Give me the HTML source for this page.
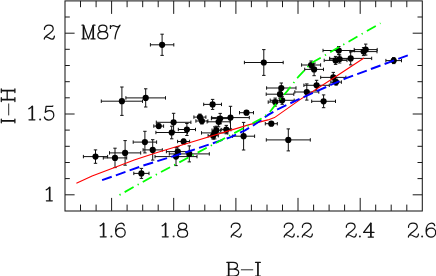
<!DOCTYPE html>
<html><head><meta charset="utf-8"><title>M87</title>
<style>
html,body{margin:0;padding:0;background:#fff;}
body{width:436px;height:276px;overflow:hidden;}
svg{display:block;}
text{font-family:"Liberation Serif",serif;fill:#1a1a1a;}
</style></head><body>
<svg width="436" height="276" viewBox="0 0 436 276">
<rect x="0" y="0" width="436" height="276" fill="#fff"/>
<g stroke="#1a1a1a" stroke-width="1.05" fill="none">
<rect x="65.0" y="0.9" width="357.3" height="210.1"/>
</g>
<g stroke="#1a1a1a" stroke-width="1.0" fill="none">
<path d="M80.5 210.9v-6.3M80.5 0.9v6.3M96.1 210.9v-6.3M96.1 0.9v6.3M111.6 210.9v-13.0M111.6 0.9v13.0M127.1 210.9v-6.3M127.1 0.9v6.3M142.7 210.9v-6.3M142.7 0.9v6.3M158.2 210.9v-6.3M158.2 0.9v6.3M173.7 210.9v-13.0M173.7 0.9v13.0M189.3 210.9v-6.3M189.3 0.9v6.3M204.8 210.9v-6.3M204.8 0.9v6.3M220.4 210.9v-6.3M220.4 0.9v6.3M235.9 210.9v-13.0M235.9 0.9v13.0M251.4 210.9v-6.3M251.4 0.9v6.3M267.0 210.9v-6.3M267.0 0.9v6.3M282.5 210.9v-6.3M282.5 0.9v6.3M298.0 210.9v-13.0M298.0 0.9v13.0M313.6 210.9v-6.3M313.6 0.9v6.3M329.1 210.9v-6.3M329.1 0.9v6.3M344.6 210.9v-6.3M344.6 0.9v6.3M360.2 210.9v-13.0M360.2 0.9v13.0M375.7 210.9v-6.3M375.7 0.9v6.3M391.2 210.9v-6.3M391.2 0.9v6.3M406.8 210.9v-6.3M406.8 0.9v6.3M65.0 194.8h9.6M422.3 194.8h-9.6M65.0 178.6h4.8M422.3 178.6h-4.8M65.0 162.5h4.8M422.3 162.5h-4.8M65.0 146.3h4.8M422.3 146.3h-4.8M65.0 130.1h4.8M422.3 130.1h-4.8M65.0 114.0h9.6M422.3 114.0h-9.6M65.0 97.8h4.8M422.3 97.8h-4.8M65.0 81.7h4.8M422.3 81.7h-4.8M65.0 65.5h4.8M422.3 65.5h-4.8M65.0 49.3h4.8M422.3 49.3h-4.8M65.0 33.2h9.6M422.3 33.2h-9.6M65.0 17.0h4.8M422.3 17.0h-4.8"/>
</g>
<g stroke="#111" stroke-width="1" fill="none">
<path d="M150.4 44.8h23.4M150.4 43.1v3.4M173.8 43.1v3.4M162.1 34.2v21.2M160.4 34.2h3.4M160.4 55.4h3.4M101.3 101.2h41.2M101.3 99.5v3.4M142.5 99.5v3.4M121.9 87.0v28.4M120.2 87.0h3.4M120.2 115.4h3.4M125.9 97.9h39.6M125.9 96.2v3.4M165.5 96.2v3.4M145.7 88.8v18.2M144.0 88.8h3.4M144.0 107.0h3.4M153.8 126.1h9.8M153.8 124.4v3.4M163.6 124.4v3.4M158.7 124.1v4.0M157.0 124.1h3.4M157.0 128.1h3.4M83.4 156.6h24.2M83.4 154.9v3.4M107.6 154.9v3.4M95.5 149.9v13.4M93.8 149.9h3.4M93.8 163.3h3.4M103.3 157.9h23.4M103.3 156.2v3.4M126.7 156.2v3.4M115.0 148.2v19.4M113.3 148.2h3.4M113.3 167.6h3.4M109.5 152.9h31.2M109.5 151.2v3.4M140.7 151.2v3.4M125.1 140.6v24.6M123.4 140.6h3.4M123.4 165.2h3.4M156.3 122.3h34.6M156.3 120.6v3.4M190.9 120.6v3.4M173.6 113.3v18.0M171.9 113.3h3.4M171.9 131.3h3.4M155.9 132.5h31.6M155.9 130.8v3.4M187.5 130.8v3.4M171.7 126.2v12.6M170.0 126.2h3.4M170.0 138.8h3.4M178.3 129.5h17.2M178.3 127.8v3.4M195.5 127.8v3.4M186.9 123.5v12.0M185.2 123.5h3.4M185.2 135.5h3.4M133.2 142.1h23.4M133.2 140.4v3.4M156.6 140.4v3.4M144.9 131.3v21.6M143.2 131.3h3.4M143.2 152.9h3.4M177.6 141.5h12.0M177.6 139.8v3.4M189.6 139.8v3.4M183.6 139.0v5.0M181.9 139.0h3.4M181.9 144.0h3.4M143.1 149.9h19.2M143.1 148.2v3.4M162.3 148.2v3.4M152.7 139.7v20.4M151.0 139.7h3.4M151.0 160.1h3.4M166.4 151.6h22.8M166.4 149.9v3.4M189.2 149.9v3.4M177.8 146.6v10.0M176.1 146.6h3.4M176.1 156.6h3.4M155.0 156.6h42.0M155.0 154.9v3.4M197.0 154.9v3.4M176.0 147.6v18.0M174.3 147.6h3.4M174.3 165.6h3.4M133.8 173.4h15.2M133.8 171.7v3.4M149.0 171.7v3.4M141.4 168.4v10.0M139.7 168.4h3.4M139.7 178.4h3.4M169.3 153.9h40.0M169.3 152.2v3.4M209.3 152.2v3.4M189.3 145.9v16.0M187.6 145.9h3.4M187.6 161.9h3.4M203.7 104.4h17.8M203.7 102.7v3.4M221.5 102.7v3.4M212.6 99.4v10.0M210.9 99.4h3.4M210.9 109.4h3.4M193.9 117.1h12.0M193.9 115.4v3.4M205.9 115.4v3.4M199.9 114.1v6.0M198.2 114.1h3.4M198.2 120.1h3.4M195.9 121.0h12.0M195.9 119.3v3.4M207.9 119.3v3.4M201.9 118.0v6.0M200.2 118.0h3.4M200.2 124.0h3.4M211.4 118.6h17.6M211.4 116.9v3.4M229.0 116.9v3.4M220.2 113.4v10.4M218.5 113.4h3.4M218.5 123.8h3.4M207.1 121.8h23.0M207.1 120.1v3.4M230.1 120.1v3.4M218.6 116.8v10.0M216.9 116.8h3.4M216.9 126.8h3.4M211.7 117.6h37.6M211.7 115.9v3.4M249.3 115.9v3.4M230.5 106.3v22.6M228.8 106.3h3.4M228.8 128.9h3.4M212.0 130.2h8.6M212.0 128.5v3.4M220.6 128.5v3.4M216.3 126.2v8.0M214.6 126.2h3.4M214.6 134.2h3.4M201.5 132.9h26.4M201.5 131.2v3.4M227.9 131.2v3.4M214.7 126.9v12.0M213.0 126.9h3.4M213.0 138.9h3.4M208.1 135.7h10.2M208.1 134.0v3.4M218.3 134.0v3.4M213.2 132.2v7.0M211.5 132.2h3.4M211.5 139.2h3.4M221.7 129.6h9.2M221.7 127.9v3.4M230.9 127.9v3.4M226.3 125.4v8.4M224.6 125.4h3.4M224.6 133.8h3.4M232.6 136.2h22.0M232.6 134.5v3.4M254.6 134.5v3.4M243.6 122.4v27.6M241.9 122.4h3.4M241.9 150.0h3.4M239.5 112.7h14.0M239.5 111.0v3.4M253.5 111.0v3.4M246.5 110.7v4.0M244.8 110.7h3.4M244.8 114.7h3.4M244.4 62.5h38.8M244.4 60.8v3.4M283.2 60.8v3.4M263.8 49.6v25.8M262.1 49.6h3.4M262.1 75.4h3.4M266.6 88.0h29.4M266.6 86.3v3.4M296.0 86.3v3.4M281.3 83.0v10.0M279.6 83.0h3.4M279.6 93.0h3.4M266.2 94.2h27.6M266.2 92.5v3.4M293.8 92.5v3.4M280.0 90.2v8.0M278.3 90.2h3.4M278.3 98.2h3.4M270.2 100.3h24.0M270.2 98.6v3.4M294.2 98.6v3.4M282.2 96.3v8.0M280.5 96.3h3.4M280.5 104.3h3.4M268.2 102.1h14.0M268.2 100.4v3.4M282.2 100.4v3.4M275.2 98.1v8.0M273.5 98.1h3.4M273.5 106.1h3.4M265.3 123.7h12.0M265.3 122.0v3.4M277.3 122.0v3.4M271.3 121.7v4.0M269.6 121.7h3.4M269.6 125.7h3.4M266.3 139.9h44.0M266.3 138.2v3.4M310.3 138.2v3.4M288.3 128.9v22.0M286.6 128.9h3.4M286.6 150.9h3.4M294.8 92.0h24.0M294.8 90.3v3.4M318.8 90.3v3.4M306.8 83.9v16.2M305.1 83.9h3.4M305.1 100.1h3.4M303.9 85.3h25.4M303.9 83.6v3.4M329.3 83.6v3.4M316.6 80.3v10.0M314.9 80.3h3.4M314.9 90.3h3.4M311.7 101.3h23.8M311.7 99.6v3.4M335.5 99.6v3.4M323.6 94.9v12.8M321.9 94.9h3.4M321.9 107.7h3.4M301.6 65.0h19.0M301.6 63.3v3.4M320.6 63.3v3.4M311.1 61.0v8.0M309.4 61.0h3.4M309.4 69.0h3.4M304.7 69.4h18.8M304.7 67.7v3.4M323.5 67.7v3.4M314.1 63.1v12.6M312.4 63.1h3.4M312.4 75.7h3.4M320.7 77.4h25.2M320.7 75.7v3.4M345.9 75.7v3.4M333.3 72.4v10.0M331.6 72.4h3.4M331.6 82.4h3.4M330.8 82.1h10.6M330.8 80.4v3.4M341.4 80.4v3.4M336.1 79.1v6.0M334.4 79.1h3.4M334.4 85.1h3.4M323.0 50.5h31.6M323.0 48.8v3.4M354.6 48.8v3.4M338.8 46.5v8.0M337.1 46.5h3.4M337.1 54.5h3.4M324.2 60.4h22.8M324.2 58.7v3.4M347.0 58.7v3.4M335.6 56.4v8.0M333.9 56.4h3.4M333.9 64.4h3.4M329.6 59.0h20.0M329.6 57.3v3.4M349.6 57.3v3.4M339.6 55.0v8.0M337.9 55.0h3.4M337.9 63.0h3.4M329.7 58.4h42.0M329.7 56.7v3.4M371.7 56.7v3.4M350.7 51.9v13.0M349.0 51.9h3.4M349.0 64.9h3.4M354.2 49.6h23.0M354.2 47.9v3.4M377.2 47.9v3.4M365.7 44.1v11.0M364.0 44.1h3.4M364.0 55.1h3.4M350.2 51.6h26.8M350.2 49.9v3.4M377.0 49.9v3.4M363.6 47.6v8.0M361.9 47.6h3.4M361.9 55.6h3.4M385.9 60.6h15.6M385.9 58.9v3.4M401.5 58.9v3.4M393.7 57.6v6.0M392.0 57.6h3.4M392.0 63.6h3.4"/>
</g>
<g fill="#000">
<circle cx="162.1" cy="44.8" r="3.1"/><circle cx="121.9" cy="101.2" r="3.1"/><circle cx="145.7" cy="97.9" r="3.1"/><circle cx="158.7" cy="126.1" r="3.1"/><circle cx="95.5" cy="156.6" r="3.1"/><circle cx="115.0" cy="157.9" r="3.1"/><circle cx="125.1" cy="152.9" r="3.1"/><circle cx="173.6" cy="122.3" r="3.1"/><circle cx="171.7" cy="132.5" r="3.1"/><circle cx="186.9" cy="129.5" r="3.1"/><circle cx="144.9" cy="142.1" r="3.1"/><circle cx="183.6" cy="141.5" r="3.1"/><circle cx="152.7" cy="149.9" r="3.1"/><circle cx="177.8" cy="151.6" r="3.1"/><circle cx="176.0" cy="156.6" r="3.1"/><circle cx="141.4" cy="173.4" r="3.1"/><circle cx="189.3" cy="153.9" r="3.1"/><circle cx="212.6" cy="104.4" r="3.1"/><circle cx="199.9" cy="117.1" r="3.1"/><circle cx="201.9" cy="121.0" r="3.1"/><circle cx="220.2" cy="118.6" r="3.1"/><circle cx="218.6" cy="121.8" r="3.1"/><circle cx="230.5" cy="117.6" r="3.1"/><circle cx="216.3" cy="130.2" r="3.1"/><circle cx="214.7" cy="132.9" r="3.1"/><circle cx="213.2" cy="135.7" r="3.1"/><circle cx="226.3" cy="129.6" r="3.1"/><circle cx="243.6" cy="136.2" r="3.1"/><circle cx="246.5" cy="112.7" r="3.1"/><circle cx="263.8" cy="62.5" r="3.1"/><circle cx="281.3" cy="88.0" r="3.1"/><circle cx="280.0" cy="94.2" r="3.1"/><circle cx="282.2" cy="100.3" r="3.1"/><circle cx="275.2" cy="102.1" r="3.1"/><circle cx="271.3" cy="123.7" r="3.1"/><circle cx="288.3" cy="139.9" r="3.1"/><circle cx="306.8" cy="92.0" r="3.1"/><circle cx="316.6" cy="85.3" r="3.1"/><circle cx="323.6" cy="101.3" r="3.1"/><circle cx="311.1" cy="65.0" r="3.1"/><circle cx="314.1" cy="69.4" r="3.1"/><circle cx="333.3" cy="77.4" r="3.1"/><circle cx="336.1" cy="82.1" r="3.1"/><circle cx="338.8" cy="50.5" r="3.1"/><circle cx="335.6" cy="60.4" r="3.1"/><circle cx="339.6" cy="59.0" r="3.1"/><circle cx="350.7" cy="58.4" r="3.1"/><circle cx="365.7" cy="49.6" r="3.1"/><circle cx="363.6" cy="51.6" r="3.1"/><circle cx="393.7" cy="60.6" r="3.1"/>
</g>
<polyline points="76.4,183.3 92.1,175.9 115.9,167.0 134.2,160.0 156.3,152.8 188.5,143.0 249.3,124.6 268.0,119.9 274.5,117.6 300.0,99.6 331.3,79.5 364.0,58.0" fill="none" stroke="#ff0000" stroke-width="1.1"/>
<polyline points="102.1,180.2 143.4,165.5 190.0,151.0 230.0,137.4 245.0,130.4 254.0,125.0 268.2,114.9 278.1,109.0 300.0,98.7 345.0,78.6 407.8,55.4" fill="none" stroke="#0000ff" stroke-width="1.95" stroke-dasharray="10.2 4.4"/>
<polyline points="119.5,195.0 148.9,178.5 188.5,157.5 221.5,140.0 252.0,123.6 261.0,118.8 269.5,112.4 276.3,103.7 278.0,101.7" fill="none" stroke="#00ff00" stroke-width="1.75" stroke-dasharray="1.3 4.6 10.25 4.6"/>
<polyline points="278.0,101.7 287.2,91.1 298.3,76.8 311.0,63.3 380.5,23.2" fill="none" stroke="#00ff00" stroke-width="1.75" stroke-dasharray="1.3 4.8 10.3 4.8" stroke-dashoffset="18.1"/>
<g fill="none" stroke="#141414" stroke-width="1.25" stroke-linecap="round" stroke-linejoin="round">
<path transform="translate(99.7,223.0)" d="M0.4 2.8C1.9 2.3 3 1.3 3.9 0.1M0.6 13.8H6.5"/>
<path transform="translate(115.6,223.0)" d="M8.6 2.6C8.3 1 7 0 5.5 0C2 0 0 3.5 0 8C0 12 2 14 4.8 14C7.5 14 9.6 12 9.6 9.4C9.6 7 7.7 5.2 5.2 5.2C2.5 5.2 0.4 7 0.2 9.6"/>
<path transform="translate(161.7,223.0)" d="M0.4 2.8C1.9 2.3 3 1.3 3.9 0.1M0.6 13.8H6.5"/>
<path transform="translate(177.6,223.0)" d="M5 0C7.4 0 9.1 1.4 9.1 3.3C9.1 5.3 7.4 6.7 5 6.7C2.6 6.7 0.9 5.3 0.9 3.3C0.9 1.4 2.6 0 5 0M5 6.7C8 6.7 10 8.2 10 10.4C10 12.6 8 14.1 5 14.1C2 14.1 0 12.6 0 10.4C0 8.2 2 6.7 5 6.7"/>
<path transform="translate(230.9,223.0)" d="M0.4 4.3C0.1 1.6 2.3 0 4.9 0C7.5 0 9.2 1.6 9.2 3.8C9.2 6.4 5.2 8.4 2.2 10.9C1 11.9 0.3 13 0.3 14M0.3 13.4C0.8 12.1 2 11.7 3.2 12C5 12.6 6.5 14.1 8 14.1C9.5 14.1 10.2 13 10.4 11"/>
<path transform="translate(283.9,223.0)" d="M0.4 4.3C0.1 1.6 2.3 0 4.9 0C7.5 0 9.2 1.6 9.2 3.8C9.2 6.4 5.2 8.4 2.2 10.9C1 11.9 0.3 13 0.3 14M0.3 13.4C0.8 12.1 2 11.7 3.2 12C5 12.6 6.5 14.1 8 14.1C9.5 14.1 10.2 13 10.4 11"/>
<path transform="translate(302.0,223.0)" d="M0.4 4.3C0.1 1.6 2.3 0 4.9 0C7.5 0 9.2 1.6 9.2 3.8C9.2 6.4 5.2 8.4 2.2 10.9C1 11.9 0.3 13 0.3 14M0.3 13.4C0.8 12.1 2 11.7 3.2 12C5 12.6 6.5 14.1 8 14.1C9.5 14.1 10.2 13 10.4 11"/>
<path transform="translate(345.9,223.0)" d="M0.4 4.3C0.1 1.6 2.3 0 4.9 0C7.5 0 9.2 1.6 9.2 3.8C9.2 6.4 5.2 8.4 2.2 10.9C1 11.9 0.3 13 0.3 14M0.3 13.4C0.8 12.1 2 11.7 3.2 12C5 12.6 6.5 14.1 8 14.1C9.5 14.1 10.2 13 10.4 11"/>
<path transform="translate(363.6,223.0)" d="M7.3 0L0 9.4H10.4M4.6 14H9.8"/>
<path transform="translate(408.1,223.0)" d="M0.4 4.3C0.1 1.6 2.3 0 4.9 0C7.5 0 9.2 1.6 9.2 3.8C9.2 6.4 5.2 8.4 2.2 10.9C1 11.9 0.3 13 0.3 14M0.3 13.4C0.8 12.1 2 11.7 3.2 12C5 12.6 6.5 14.1 8 14.1C9.5 14.1 10.2 13 10.4 11"/>
<path transform="translate(426.1,223.0)" d="M8.6 2.6C8.3 1 7 0 5.5 0C2 0 0 3.5 0 8C0 12 2 14 4.8 14C7.5 14 9.6 12 9.6 9.4C9.6 7 7.7 5.2 5.2 5.2C2.5 5.2 0.4 7 0.2 9.6"/>
<path transform="translate(44.0,25.1)" d="M0.4 4.3C0.1 1.6 2.3 0 4.9 0C7.5 0 9.2 1.6 9.2 3.8C9.2 6.4 5.2 8.4 2.2 10.9C1 11.9 0.3 13 0.3 14M0.3 13.4C0.8 12.1 2 11.7 3.2 12C5 12.6 6.5 14.1 8 14.1C9.5 14.1 10.2 13 10.4 11"/>
<path transform="translate(28.4,106.0)" d="M0.4 2.8C1.9 2.3 3 1.3 3.9 0.1M0.6 13.8H6.5"/>
<path transform="translate(44.4,106.0)" d="M1.7 0.4H8L8.5 -0.1M1.7 0.4L0.9 6.4C2.2 5.2 3.4 4.7 4.8 4.7C7.5 4.7 9.4 6.6 9.4 9.3C9.4 12 7.3 14 4.4 14C2 14 0.4 12.8 0 11"/>
<path transform="translate(45.8,187.0)" d="M0.4 2.8C1.9 2.3 3 1.3 3.9 0.1M0.6 13.8H6.5"/>
<path transform="translate(82.0,25.2)" d="M0 0H1.5M0 13.7H4.2M1.5 0L6.4 13.7L11.2 0M9 13.7H13M11.2 0H13"/>
<path transform="translate(97.8,25.2) scale(1,0.975)" d="M5 0C7.4 0 9.1 1.4 9.1 3.3C9.1 5.3 7.4 6.7 5 6.7C2.6 6.7 0.9 5.3 0.9 3.3C0.9 1.4 2.6 0 5 0M5 6.7C8 6.7 10 8.2 10 10.4C10 12.6 8 14.1 5 14.1C2 14.1 0 12.6 0 10.4C0 8.2 2 6.7 5 6.7"/>
<path transform="translate(110.4,25.2) scale(1,0.975)" d="M0 3.3V0.3M0 1.9C1.5 0 3 0 5 1C6.5 1.8 8.5 1.8 9.7 0C7 4 5 9 4.6 14"/>
<path transform="translate(226.8,262.3)" d="M0 0H6.5C9 0 10.7 1.3 10.7 3.3C10.7 5.4 9 6.7 6.5 6.7H1.9M6.5 6.7C9.6 6.7 11.9 8 11.9 10.2C11.9 12.4 9.6 13.7 6.5 13.7H0"/>
<path transform="translate(255.5,262.3)" d="M0 0H4.9M0 13.7H4.9"/>
<path d="M241.3 269.8H252.8" stroke-width="0.9"/>
<path d="M1.3 119V122.8M14.9 119V122.8M1.3 88.8V92.6M14.9 88.8V92.6M1.3 97.7V101.5M14.9 97.7V101.5M7.2 90.7V99.6"/>
<path d="M8.7 103.9V115" stroke-width="0.9"/>
</g>
<g fill="none" stroke="#111" stroke-width="1.7" stroke-linecap="butt">
<path transform="translate(99.7,223.0)" d="M3.9 0.1V13.8"/>
<path transform="translate(161.7,223.0)" d="M3.9 0.1V13.8"/>
<path transform="translate(363.6,223.0)" d="M7.3 0V14"/>
<path transform="translate(28.4,106.0)" d="M3.9 0.1V13.8"/>
<path transform="translate(45.8,187.0)" d="M3.9 0.1V13.8"/>
<path transform="translate(82.0,25.2)" d="M1.5 0V13.7M11.2 0V13.7"/>
<path transform="translate(226.8,262.3)" d="M1.9 0V13.7"/>
<path transform="translate(255.5,262.3)" d="M2.45 0V13.7"/>
<path d="M1.3 120.9H14.9M1.3 90.7H14.9M1.3 99.6H14.9"/>
</g>
<g fill="#222"><circle cx="111.4" cy="236.6" r="1.0"/><circle cx="173.6" cy="236.6" r="1.0"/><circle cx="297.9" cy="236.6" r="1.0"/><circle cx="359.9" cy="236.6" r="1.0"/><circle cx="422.1" cy="236.6" r="1.0"/><circle cx="40.1" cy="119.6" r="1.0"/></g>
</svg>
</body></html>
